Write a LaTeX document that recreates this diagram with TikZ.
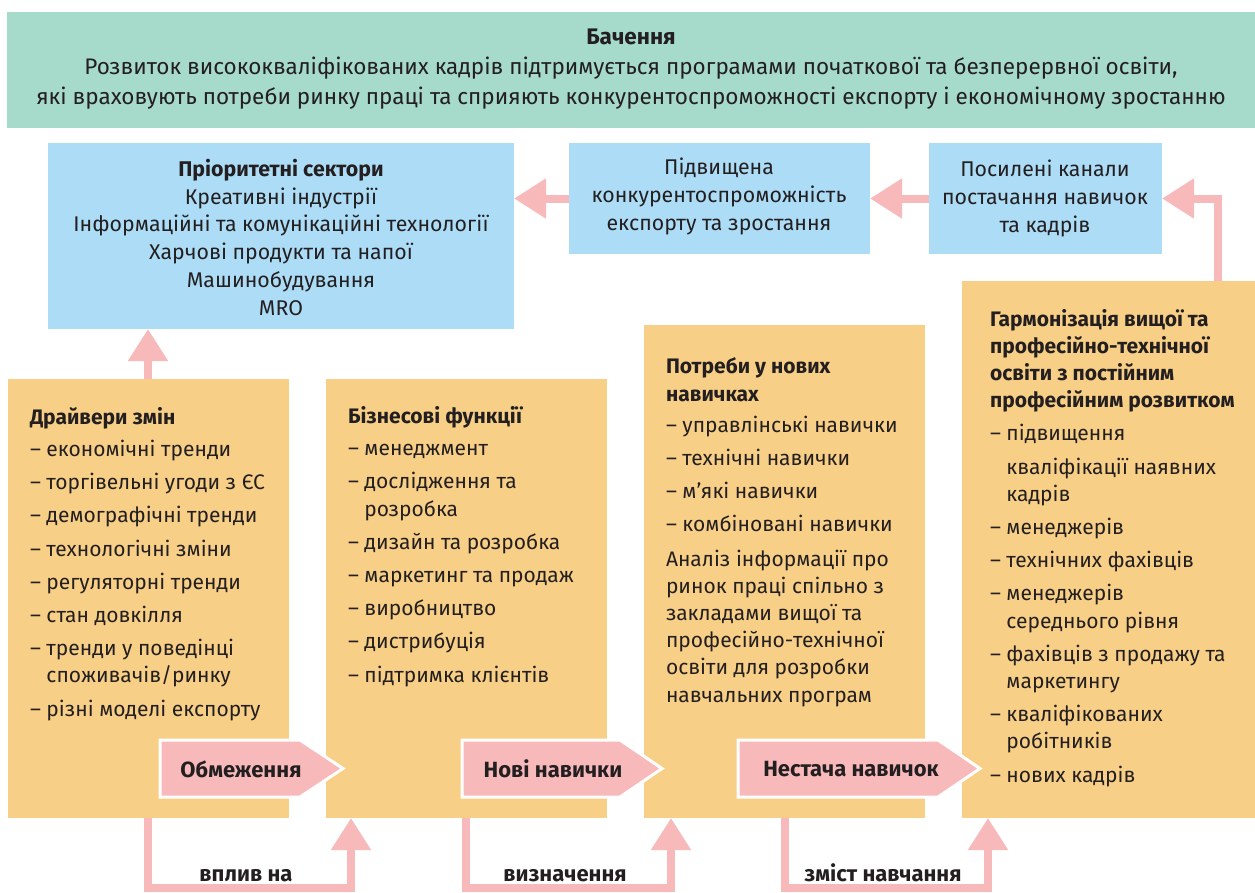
\documentclass[tikz,border=0pt]{standalone}
\usepackage{fontspec}
\setmainfont{Fira Sans}
\usetikzlibrary{arrows.meta,calc}
\definecolor{vgreen}{HTML}{A6DACB}
\definecolor{vblue}{HTML}{ADDCF6}
\definecolor{vorange}{HTML}{F8CF86}
\definecolor{vpink}{HTML}{F8B9BA}
\definecolor{vtext}{HTML}{231F20}
\newcommand{\cont}{\hphantom{–\ }}
\begin{document}
\begin{tikzpicture}[x=1pt,y=-1pt,
  every node/.style={text=vtext, inner sep=0pt, outer sep=0pt},
  box/.style={draw=none, anchor=north west},
  conn/.style={draw=vpink, line width=8pt, line join=miter, -{Triangle[length=32pt,width=38pt]}},
  labarrow/.style={fill=vpink, draw=white, line width=3pt, line join=miter},
  boxtext/.style={anchor=base west, align=left, font=\fontsize{21}{27.2}\selectfont},
  ctext/.style={anchor=base, align=center, font=\fontsize{21.3}{27.7}\selectfont},
  labtext/.style={font=\bfseries\fontsize{22}{24}\selectfont}]
\useasboundingbox (0,0) rectangle (1255,892);
% boxes
\node[box, fill=vgreen, minimum width=1248, minimum height=116] (vision) at (7,12) {};
\node[box, fill=vblue, minimum width=466, minimum height=186] (prio) at (48,143) {};
\node[box, fill=vblue, minimum width=301, minimum height=111] (comp) at (569,143) {};
\node[box, fill=vblue, minimum width=233, minimum height=111] (chan) at (929,143) {};
\node[box, fill=vorange, minimum width=281, minimum height=439] (b1) at (8,379) {};
\node[box, fill=vorange, minimum width=281, minimum height=439] (b2) at (326,379) {};
\node[box, fill=vorange, minimum width=281, minimum height=493] (b3) at (644,325) {};
\node[box, fill=vorange, minimum width=293, minimum height=537] (b4) at (962,281) {};
% texts
\node[anchor=base, align=center, font=\fontsize{22.5}{30}\selectfont] (visiontext) at (631,104)
 {\textbf{Бачення}\\Розвиток висококваліфікованих кадрів підтримується програмами початкової та безперервної освіти,\\які враховують потреби ринку праці та сприяють конкурентоспроможності експорту і економічному зростанню};
\node[ctext] (priotext) at (281,315) {\textbf{Пріоритетні сектори}\\Креативні індустрії\\Інформаційні та комунікаційні технології\\Харчові продукти та напої\\Машинобудування\\MRO};
\node[ctext] (comptext) at (719,230) {Підвищена\\конкурентоспроможність\\експорту та зростання};
\node[ctext] (chantext) at (1045,232) {Посилені канали\\постачання навичок\\та кадрів};
\node[boxtext] (b1text) at (30,716) {\textbf{Драйвери змін}\\[5pt]
– економічні тренди\\[6pt]
– торгівельні угоди з ЄС\\[6pt]
– демографічні тренди\\[6pt]
– технологічні зміни\\[6pt]
– регуляторні тренди\\[6pt]
– стан довкілля\\[6pt]
– тренди у поведінці\\
\cont споживачів/ринку\\[6pt]
– різні моделі експорту};
\node[boxtext] (b2text) at (348,682) {\textbf{Бізнесові функції}\\[5pt]
– менеджмент\\[6pt]
– дослідження та\\
\cont розробка\\[6pt]
– дизайн та розробка\\[6pt]
– маркетинг та продаж\\[6pt]
– виробництво\\[6pt]
– дистрибуція\\[6pt]
– підтримка клієнтів};
\node[boxtext] (b3text) at (666,702) {\textbf{Потреби у нових}\\
\textbf{навичках}\\[4pt]
– управлінські навички\\[6pt]
– технічні навички\\[6pt]
– м’які навички\\[6pt]
– комбіновані навички\\[7pt]
Аналіз інформації про\\
ринок праці спільно з\\
закладами вищої та\\
професійно-технічної\\
освіти для розробки\\
навчальних програм};
\node[boxtext] (b4text) at (990,782) {\textbf{Гармонізація вищої та}\\
\textbf{професійно-технічної}\\
\textbf{освіти з постійним}\\
\textbf{професійним розвитком}\\[6pt]
– підвищення\\[6pt]
\cont кваліфікації наявних\\
\cont кадрів\\[6pt]
– менеджерів\\[6pt]
– технічних фахівців\\[6pt]
– менеджерів\\
\cont середнього рівня\\[6pt]
– фахівців з продажу та\\
\cont маркетингу\\[6pt]
– кваліфікованих\\
\cont робітників\\[6pt]
– нових кадрів};
% label arrows
\path[labarrow] (160,740) -- (300,740) -- (343,768.5) -- (300,797) -- (160,797) -- cycle;
\node[labtext] (lim) at (241,769) {Обмеження};
\path[labarrow] (462,740) -- (620,740) -- (662,768.5) -- (620,797) -- (462,797) -- cycle;
\node[labtext] (newsk) at (553,769) {Нові навички};
\path[labarrow] (738,740) -- (938,740) -- (980,768.5) -- (938,797) -- (738,797) -- cycle;
\node[labtext] (lack) at (851,769) {Нестача навичок};
% connectors
\draw[conn] ($(b1.north west)+(140,0)$) -- ($(prio.south west)+(100,0)$);
\draw[conn] (comp.west) -- (comp.west -| prio.east);
\draw[conn] (chan.west) -- (chan.west -| comp.east);
\draw[conn] ($(b4.north west)+(256,0)$) |- (chan.east);
\draw[conn] ($(b1.south west)+(140,0)$) -- ++(0,70) -| ($(b2.south west)+(25,0)$);
\draw[conn] ($(b2.south west)+(140,0)$) -- ++(0,70) -| ($(b3.south west)+(27,0)$);
\draw[conn] ($(b3.south west)+(141,0)$) -- ++(0,70) -| ($(b4.south west)+(26,0)$);
\node[labtext, anchor=base] (infl) at (246,881) {вплив на};
\node[labtext, anchor=base] (defn) at (565,881) {визначення};
\node[labtext, anchor=base] (cont) at (883,881) {зміст навчання};
\end{tikzpicture}
\end{document}
